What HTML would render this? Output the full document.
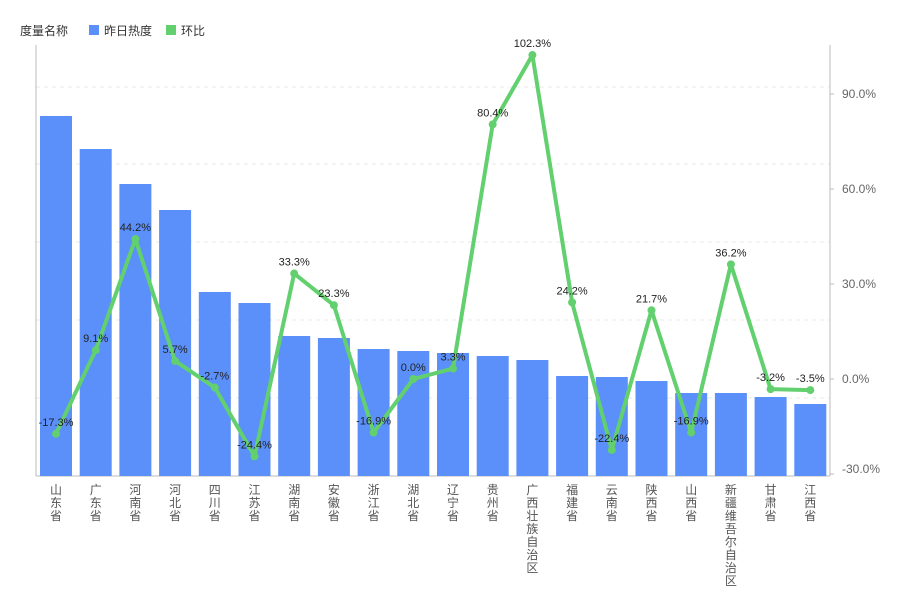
<!DOCTYPE html>
<html><head><meta charset="utf-8"><style>
body{margin:0;background:#fff;}
svg text{font-family:"Liberation Sans","Noto Sans CJK SC",sans-serif;}
</style></head><body>
<svg width="900" height="600" xmlns="http://www.w3.org/2000/svg">
<rect width="900" height="600" fill="#fff"/>
<text x="20" y="35" font-size="12" fill="#333">度量名称</text>
<rect x="89" y="25" width="10" height="10" fill="#5b8ff9"/>
<text x="104" y="35" font-size="12" fill="#333">昨日热度</text>
<rect x="166" y="25" width="10" height="10" fill="#62d06e"/>
<text x="181" y="35" font-size="12" fill="#333">环比</text>
<g stroke="#e8e8e8" stroke-dasharray="4,4">
<line x1="36" x2="830" y1="87" y2="87"/><line x1="36" x2="830" y1="164" y2="164"/>
<line x1="36" x2="830" y1="242" y2="242"/><line x1="36" x2="830" y1="320" y2="320"/>
<line x1="36" x2="830" y1="398" y2="398"/>
</g>
<line x1="36" y1="45" x2="36" y2="476" stroke="#bbb"/>
<line x1="830" y1="45" x2="830" y2="476" stroke="#bbb"/>
<line x1="36" y1="476" x2="830" y2="476" stroke="#bbb"/>
<g font-size="12" fill="#666">
<text x="842" y="98">90.0%</text><text x="842" y="193">60.0%</text><text x="842" y="288">30.0%</text>
<text x="842" y="383">0.0%</text><text x="842" y="473">-30.0%</text>
</g>
<g stroke="#bbb"><line x1="830" x2="834" y1="94" y2="94"/><line x1="830" x2="834" y1="189" y2="189"/><line x1="830" x2="834" y1="284" y2="284"/><line x1="830" x2="834" y1="379" y2="379"/><line x1="830" x2="834" y1="474" y2="474"/></g>
<g id="bars" fill="#5b8ff9"></g>
<g id="xl" font-size="12" fill="#555" text-anchor="middle"></g>
<polyline id="ln" fill="none" stroke="#62d06e" stroke-width="4" stroke-linejoin="round"/>
<g id="pts" fill="#62d06e"></g>
<g id="lb" font-size="11" fill="#222" text-anchor="middle"></g>
</svg>
<script>
var names=["山东省","广东省","河南省","河北省","四川省","江苏省","湖南省","安徽省","浙江省","湖北省","辽宁省","贵州省","广西壮族自治区","福建省","云南省","陕西省","山西省","新疆维吾尔自治区","甘肃省","江西省"];
var tops=[116,149,184,210,292,303,336,338,349,351,353,356,360,376,377,381,393,393,397,404];
var v=[-17.3,9.1,44.2,5.7,-2.7,-24.4,33.3,23.3,-16.9,0.0,3.3,80.4,102.3,24.2,-22.4,21.7,-16.9,36.2,-3.2,-3.5];
var ns="http://www.w3.org/2000/svg",pts=[];
function el(t,a,p,txt){var e=document.createElementNS(ns,t);for(var k in a)e.setAttribute(k,a[k]);if(txt!=null)e.textContent=txt;document.getElementById(p).appendChild(e);}
for(var i=0;i<20;i++){var cx=56+i*39.7;
el("rect",{x:cx-16,y:tops[i],width:32,height:476-tops[i]},"bars");
var s=names[i];for(var j=0;j<s.length;j++)el("text",{x:cx,y:494+j*13},"xl",s[j]);
var y=379-v[i]*95/30;pts.push(cx+","+y);
el("circle",{cx:cx,cy:y,r:4},"pts");
el("text",{x:cx,y:y-8},"lb",v[i].toFixed(1)+"%");}
document.getElementById("ln").setAttribute("points",pts.join(" "));
</script>
</body></html>
